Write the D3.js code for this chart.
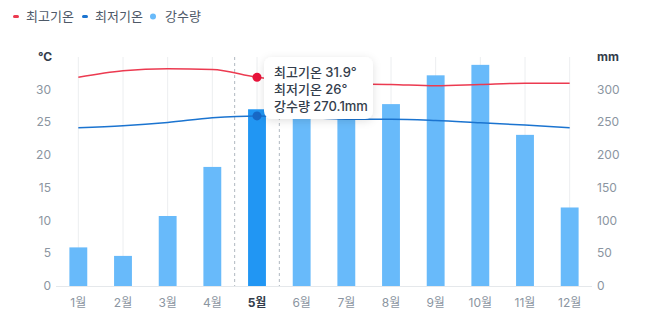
<!DOCTYPE html>
<html><head><meta charset="utf-8">
<script src="https://cdn.jsdelivr.net/npm/d3@7"></script>
<style>
html,body{margin:0;padding:0;background:#fff;}
svg{display:block;font-family:Inter,"Noto Sans CJK KR",sans-serif;}
</style></head>
<body><svg id="c" width="651" height="328"></svg>
<script>
const months = ["1월","2월","3월","4월","5월","6월","7월","8월","9월","10월","11월","12월"];
const maxTemp = [31.9, 32.9, 33.2, 33.1, 31.9, 31.2, 30.9, 30.8, 30.6, 30.8, 31.0, 31.0];
const minTemp = [24.2, 24.5, 25.0, 25.7, 26.0, 25.8, 25.5, 25.5, 25.3, 24.95, 24.6, 24.2];
const rain = [59, 46, 107, 182, 270.1, 275, 265, 278, 322, 338, 231, 120];
const tempTicks = [0, 5, 10, 15, 20, 25, 30];
const rainTicks = [0, 50, 100, 150, 200, 250, 300];
const legendLabels = ["최고기온", "최저기온", "강수량"];
const activeIndex = 4;

(function(){
const svg = d3.select("#c");
const pTop = 57, pBottom = 286, pLeft = 56, pRight = 592;
const x = d3.scaleBand().domain(months).range([pLeft, pRight]);
const yT = d3.scaleLinear().domain([0, 35]).range([pBottom, pTop]);
const yR = d3.scaleLinear().domain([0, 350]).range([pBottom, pTop]);
const cx = m => x(m) + x.bandwidth() / 2;

const RED = "#ec3a50", BLUE = "#1b74d0", BAR = "#68bafa", BAR_ACT = "#2196f3";
const GRAY = "#8b95a1";

// legend
const lg = svg.append("g").attr("font-size", 13).attr("fill", "#4e5968");
const legendX = [13, 82, 152];
const legendColors = [RED, BLUE, BAR];
legendLabels.forEach((t, i) => {
  if (i < 2) lg.append("rect").attr("x", legendX[i]).attr("y", 15).attr("width", 6).attr("height", 3).attr("rx", 1.5).attr("fill", legendColors[i]);
  else lg.append("circle").attr("cx", legendX[i] + 1).attr("cy", 16.5).attr("r", 3).attr("fill", legendColors[i]);
  lg.append("text").attr("x", legendX[i] + 13).attr("y", 21).text(t);
});

// vertical gridlines
svg.append("g").selectAll("line").data(months).join("line")
  .attr("x1", d => cx(d)).attr("x2", d => cx(d)).attr("y1", pTop).attr("y2", pBottom)
  .attr("stroke", "#eceef0").attr("stroke-width", 1);

// hover dashed band
const ax = x(months[activeIndex]);
[ax, ax + x.bandwidth()].forEach(v => {
  svg.append("line").attr("x1", v).attr("x2", v).attr("y1", pTop).attr("y2", pBottom)
    .attr("stroke", "#b0b8c1").attr("stroke-dasharray", "3,3").attr("stroke-width", 1);
});

// bars
const bw = x.bandwidth() * 0.4;
svg.append("g").selectAll("rect").data(rain).join("rect")
  .attr("x", (d, i) => cx(months[i]) - bw / 2)
  .attr("y", d => yR(d)).attr("width", bw).attr("height", d => pBottom - yR(d))
  .attr("fill", (d, i) => i === activeIndex ? BAR_ACT : BAR);

// baseline
svg.append("line").attr("x1", pLeft).attr("x2", pRight).attr("y1", pBottom + 0.5).attr("y2", pBottom + 0.5)
  .attr("stroke", "#e5e8eb");

// lines
const line = arr => d3.line().curve(d3.curveMonotoneX)
  .x((d, i) => cx(months[i])).y(d => yT(d))(arr);
svg.append("path").attr("d", line(maxTemp)).attr("fill", "none").attr("stroke", RED).attr("stroke-width", 1.5);
svg.append("path").attr("d", line(minTemp)).attr("fill", "none").attr("stroke", BLUE).attr("stroke-width", 1.5);

// axes
const la = svg.append("g").attr("font-size", 12).attr("fill", GRAY).attr("text-anchor", "end");
la.selectAll("text").data(tempTicks).join("text").attr("x", 51).attr("y", d => yT(d) + 4).text(d => d);
const ra = svg.append("g").attr("font-size", 12).attr("fill", GRAY).attr("text-anchor", "start");
ra.selectAll("text").data(rainTicks).join("text").attr("x", 597).attr("y", d => yR(d) + 4).text(d => d);
svg.append("text").attr("x", 38).attr("y", 61).attr("font-size", 12).attr("font-weight", 700).attr("fill", "#333d4b").text("°C");
svg.append("text").attr("x", 597).attr("y", 61).attr("font-size", 12).attr("font-weight", 700).attr("fill", "#333d4b").text("mm");

svg.append("g").selectAll("text").data(months).join("text")
  .attr("x", d => cx(d)).attr("y", 307).attr("text-anchor", "middle").attr("font-size", 12)
  .attr("fill", (d, i) => i === activeIndex ? "#333d4b" : GRAY)
  .attr("font-weight", (d, i) => i === activeIndex ? 700 : 400)
  .text(d => d);

// active dots
const am = months[activeIndex];
svg.append("circle").attr("cx", cx(am)).attr("cy", yT(maxTemp[activeIndex])).attr("r", 4.5).attr("fill", "#e8133a");
svg.append("circle").attr("cx", cx(am)).attr("cy", yT(minTemp[activeIndex])).attr("r", 4.5).attr("fill", "#1768c6");

// tooltip
const defs = svg.append("defs");
const f = defs.append("filter").attr("id", "sh").attr("x", "-20%").attr("y", "-20%").attr("width", "140%").attr("height", "150%");
f.append("feDropShadow").attr("dx", 0).attr("dy", 2).attr("stdDeviation", 4).attr("flood-color", "#000").attr("flood-opacity", 0.12);
const tg = svg.append("g");
tg.append("rect").attr("x", 264).attr("y", 57).attr("width", 109).attr("height", 62).attr("rx", 8)
  .attr("fill", "#fff").attr("filter", "url(#sh)");
const tipLines = [
  `${legendLabels[0]} ${maxTemp[activeIndex]}°`,
  `${legendLabels[1]} ${minTemp[activeIndex]}°`,
  `${legendLabels[2]} ${rain[activeIndex]}mm`
];
tg.selectAll("text").data(tipLines).join("text")
  .attr("x", 274).attr("y", (d, i) => 77 + i * 17).attr("font-size", 13).attr("font-weight", 500)
  .attr("fill", "#333d4b").text(d => d);
})();
</script></body></html>
